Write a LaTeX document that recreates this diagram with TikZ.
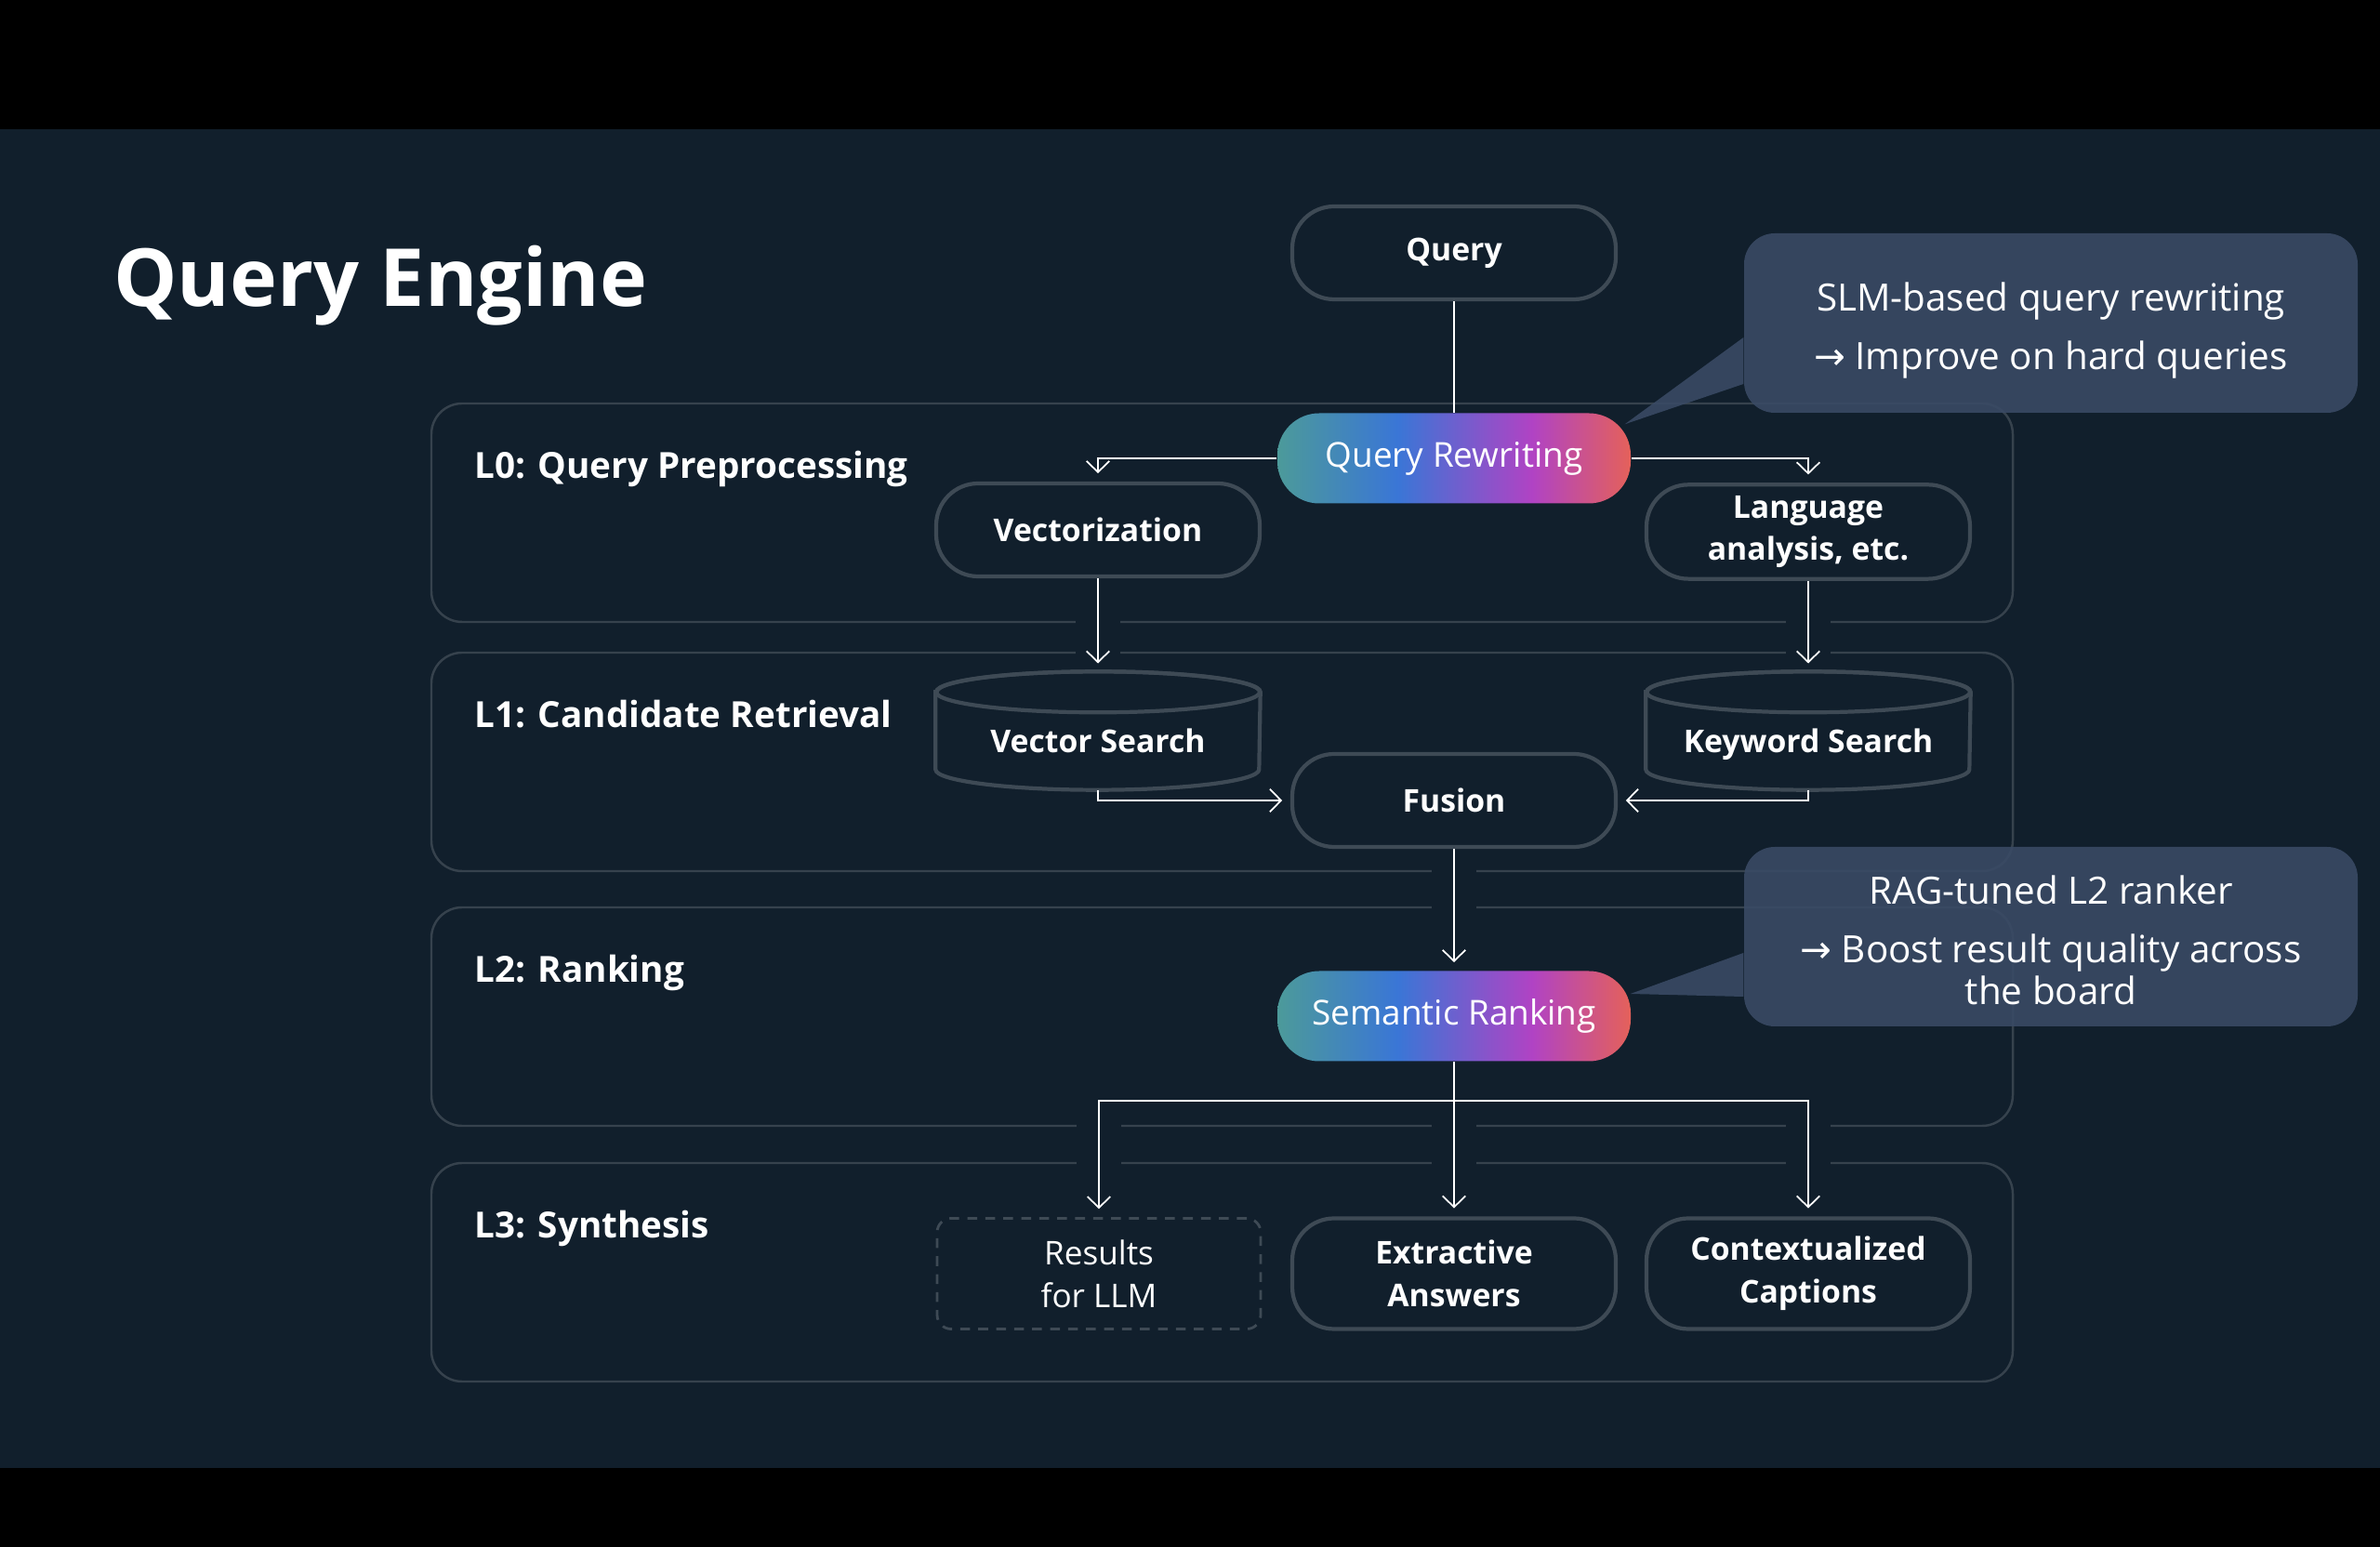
\documentclass[tikz,border=0pt]{standalone}
\usepackage{fontspec}
\setmainfont{Open Sans}
\newfontfamily\arrowfont{DejaVu Sans}
\usetikzlibrary{arrows.meta,positioning}

\definecolor{bg}{HTML}{111F2C}
\definecolor{rim}{HTML}{3E4A55}
\definecolor{lay}{HTML}{36424D}
\definecolor{tip}{HTML}{3A4B66}
\definecolor{gteal}{HTML}{4C9A9A}
\definecolor{gblue}{HTML}{3A76D6}
\definecolor{gpink}{HTML}{B043C4}
\definecolor{gcoral}{HTML}{E4615A}
\pgfdeclarehorizontalshading{rwgrad}{100bp}{color(0bp)=(gteal); color(25bp)=(gteal); color(42bp)=(gblue); color(61bp)=(gpink); color(75bp)=(gcoral); color(100bp)=(gcoral)}
\pgfdeclarelayer{base}
\pgfdeclarelayer{back}
\pgfdeclarelayer{mid}
\pgfsetlayers{base,back,mid,main}

\begin{document}
\begin{tikzpicture}[
	every node/.style={text=white},
	pill/.style={draw=rim, line width=1.2pt, fill=bg, rounded corners=0.45cm, minimum width=3.48cm, minimum height=1cm, align=center, font=\bfseries\fontsize{9.6}{13}\selectfont},
	glow/.style={shade, shading=rwgrad, rounded corners=0.45cm, minimum width=3.8cm, minimum height=0.97cm, font=\fontsize{10.5}{13}\selectfont},
	drum/.style={minimum width=3.48cm, minimum height=1.04cm, text height=0.95em, text depth=0.25em, font=\bfseries\fontsize{9.6}{13}\selectfont},
	layer/.style={draw=lay, line width=0.7pt, rounded corners=0.33cm},
	laytext/.style={anchor=base west, font=\bfseries\fontsize{11}{14}\selectfont},
	link/.style={white, line width=0.5pt, -{Straight Barb[length=3.4pt,width=7pt]}, shorten >=2.5pt},
	gap/.style={bg, line width=0.48cm},
	bubble/.style={fill=tip, fill opacity=0.88, text opacity=1, rounded corners=0.33cm, minimum width=6.6cm, minimum height=1.93cm, align=center, font=\fontsize{11.5}{12.8}\selectfont},
]
	\begin{pgfonlayer}{base}
		\fill[black] (0,0) rectangle (25.6,-16.64);
		\fill[bg] (0,-1.39) rectangle (25.6,-15.79);
	\end{pgfonlayer}
	\node[anchor=base west, font=\bfseries\fontsize{24.5}{30}\selectfont] (title) at (1.10,-3.30) {Query Engine};

	\node[pill] (query) at (15.64,-2.72) {Query};
	\node[glow] (qrw) at (15.64,-4.93) {Query Rewriting};
	\node[pill] (vect) at (11.81,-5.70) {Vectorization};
	\node[pill] (lang) at (19.45,-5.72) {Language\\analysis, etc.};
	\node[drum] (vsearch) at (11.81,-7.97) {Vector Search};
	\node[drum] (ksearch) at (19.45,-7.97) {Keyword Search};
	\node[pill] (fusion) at (15.64,-8.61) {Fusion};
	\node[glow] (srank) at (15.64,-10.93) {Semantic Ranking};
	\node[pill, minimum height=1.19cm, rounded corners=0.15cm, line width=0.8pt, dash pattern=on 3pt off 2.5pt, font=\fontsize{10}{13}\selectfont] (llm) at (11.82,-13.70) {Results\\for LLM};
	\node[pill, minimum height=1.19cm] (extr) at (15.64,-13.70) {Extractive\\Answers};
	\node[pill, minimum height=1.19cm] (capt) at (19.45,-13.70) {Contextualized\\Captions};
	\coordinate (fork) at (15.64,-11.84);

	\draw[white, line width=0.5pt] (query) -- (qrw);
	\draw[link] (qrw.west) -| (vect.north);
	\draw[link] (qrw.east) -| (lang.north);
	\draw[link] (vect) -- ([yshift=2.2mm]vsearch.north);
	\draw[link] (lang) -- ([yshift=2.2mm]ksearch.north);
	\draw[link] (vsearch.south) |- (fusion.west);
	\draw[link] (ksearch.south) |- (fusion.east);
	\draw[link] (fusion) -- (srank);
	\draw[link] (srank) -- (extr);
	\draw[link] (srank.south) -- (fork) -| (llm.north);
	\draw[link] (fork) -| (capt.north);

	\begin{pgfonlayer}{back}
		\foreach \ytop/\lab/\nm in {4.34/L0: Query Preprocessing/l0, 7.02/L1: Candidate Retrieval/l1, 9.76/L2: Ranking/l2, 12.51/L3: Synthesis/l3}{
			\draw[layer] (4.64,-\ytop) rectangle (21.65,-\ytop-2.35);
			\node[laytext] (\nm) at (4.98,-\ytop-0.81) {\lab};
		}
		\draw[gap] (vect) -- (vsearch);
		\draw[gap] (lang) -- (ksearch);
		\draw[gap] (fusion) -- (srank);
		\draw[gap] (srank) -- (extr);
		\draw[gap] (fork) -| (llm);
		\draw[gap] (fork) -| (capt);
	\end{pgfonlayer}

	\begin{pgfonlayer}{mid}
		\foreach \n in {vsearch,ksearch}{
			\draw[rim, line width=1.2pt, fill=bg] (\n.north west) -- ([yshift=2.2mm]\n.south west) arc[start angle=180, end angle=360, x radius=1.74cm, y radius=0.22cm] -- (\n.north east) arc[start angle=0, end angle=180, x radius=1.74cm, y radius=0.22cm] -- cycle;
			\draw[rim, line width=1.2pt] (\n.north) ellipse[x radius=1.74cm, y radius=0.22cm];
		}
		\node[bubble] (slmnote) at (22.06,-3.475) {\rule{0pt}{13.3pt}SLM-based query rewriting\\[5.2pt]{\arrowfont →} Improve on hard queries};
		\fill[tip, fill opacity=0.88] ([yshift=-0.155cm]slmnote.west) -- ([shift={(-0.07,-0.125)}]qrw.north east) -- ([yshift=-0.655cm]slmnote.west) -- cycle;
		\node[bubble] (ragnote) at (22.06,-10.075) {\rule{0pt}{11.1pt}RAG-tuned L2 ranker\\[5.2pt]{\arrowfont →} Boost result quality across\\the board};
		\fill[tip, fill opacity=0.88] ([yshift=-0.175cm]ragnote.west) -- ([shift={(-0.01,0.24)}]srank.east) -- ([yshift=-0.645cm]ragnote.west) -- cycle;
	\end{pgfonlayer}
\end{tikzpicture}
\end{document}
